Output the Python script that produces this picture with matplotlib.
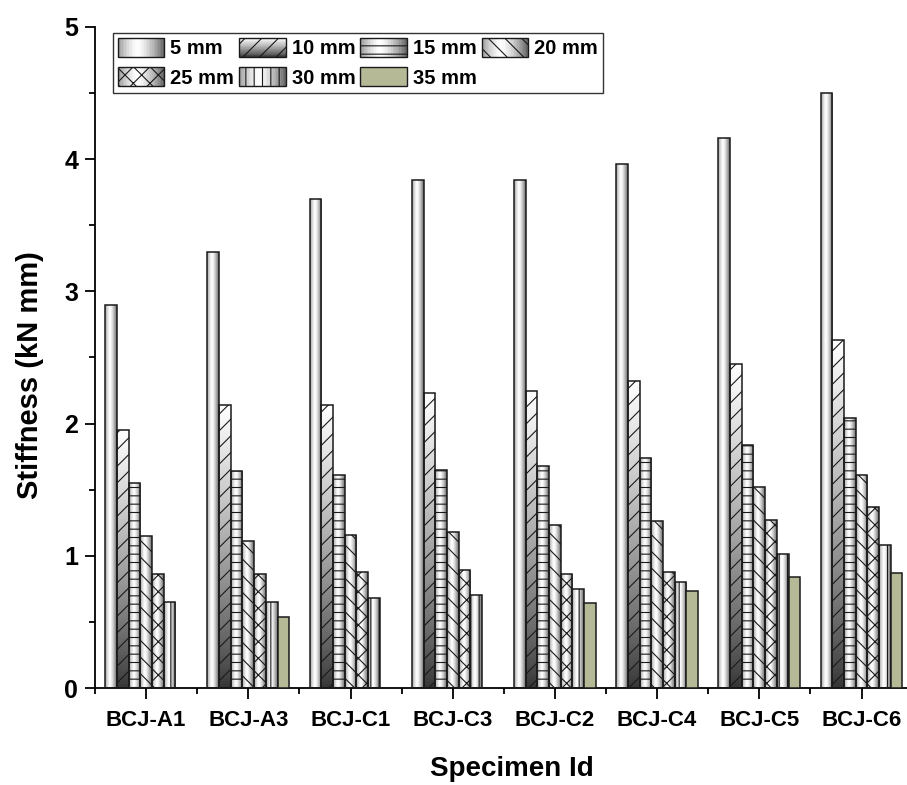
import numpy as np
import matplotlib
matplotlib.use('Agg')
import matplotlib.pyplot as plt
from matplotlib.patches import Rectangle
from matplotlib.legend_handler import HandlerBase
from matplotlib.ticker import MultipleLocator, FixedLocator

nan = np.nan
specimens = ['BCJ-A1', 'BCJ-A3', 'BCJ-C1', 'BCJ-C3', 'BCJ-C2', 'BCJ-C4', 'BCJ-C5', 'BCJ-C6']
series_labels = ['5 mm', '10 mm', '15 mm', '20 mm', '25 mm', '30 mm', '35 mm']
s5 = [2.90, 3.30, 3.70, 3.84, 3.84, 3.96, 4.16, 4.50]
s10 = [1.95, 2.14, 2.14, 2.23, 2.25, 2.32, 2.45, 2.63]
s15 = [1.55, 1.64, 1.61, 1.65, 1.68, 1.74, 1.84, 2.04]
s20 = [1.15, 1.11, 1.16, 1.18, 1.23, 1.26, 1.52, 1.61]
s25 = [0.86, 0.86, 0.88, 0.89, 0.86, 0.88, 1.27, 1.37]
s30 = [0.65, 0.65, 0.68, 0.70, 0.75, 0.80, 1.01, 1.08]
s35 = [nan, 0.54, nan, nan, 0.64, 0.73, 0.84, 0.87]
series = [s5, s10, s15, s20, s25, s30, s35]

styles = [
    dict(hatch='', grad='cyl'),
    dict(hatch='//', grad='vert'),
    dict(hatch='--', grad='cyl'),
    dict(hatch='\\\\', grad='cyl'),
    dict(hatch='xx', grad='cyl'),
    dict(hatch='||', grad='cyl'),
    dict(hatch='', grad=None, color='#b5b996'),
]

plt.rcParams['font.family'] = ['Liberation Sans', 'DejaVu Sans']
plt.rcParams['font.weight'] = 'bold'
plt.rcParams['hatch.linewidth'] = 0.8


def cyl(t):
    d = np.abs(t - 0.42) / 0.58
    return np.clip(1 - 0.62 * d ** 1.4, 0, 1)


def vert(t):
    # t=0 bottom, t=1 top
    return np.clip(0.2 + 0.8 * t ** 0.8, 0, 1)


N = 64
tt = (np.arange(N) + 0.5) / N
cyl_arr = cyl(tt)[None, :]
vert_arr = vert(tt)[:, None]

fig = plt.figure(figsize=(9.07, 7.85), dpi=100)
ax = fig.add_axes([95 / 907, 1 - 688 / 785, 1 - 95 / 907, (688 - 27) / 785])

w = 0.8 / 7
x = np.arange(len(specimens))
for j, (vals, st) in enumerate(zip(series, styles)):
    pos = x + (j - 3) * w
    bars = ax.bar(pos, vals, width=w, facecolor=st.get('color', 'none'),
                  edgecolor='#1a1a1a', linewidth=1.1, hatch=st['hatch'], zorder=3)
    if st['grad']:
        arr = cyl_arr if st['grad'] == 'cyl' else vert_arr
        for b in bars:
            h = b.get_height()
            if not np.isfinite(h):
                continue
            x0 = b.get_x()
            x1 = x0 + b.get_width()
            im = ax.imshow(arr, extent=(x0, x1, 0, h), origin='lower', aspect='auto',
                           cmap='gray', vmin=0, vmax=1, interpolation='bilinear', zorder=2)
            im.set_clip_path(b)

ax.set_xlim(-0.5, 7.445)
ax.set_ylim(0, 5)
ax.set_aspect('auto')

for s in ['top', 'right']:
    ax.spines[s].set_visible(False)
for s in ['left', 'bottom']:
    ax.spines[s].set_linewidth(1.3)

ax.set_xticks(x)
ax.set_xticklabels(specimens)
ax.xaxis.set_minor_locator(FixedLocator(np.arange(-0.5, 7.6, 1.0)))
ax.yaxis.set_major_locator(MultipleLocator(1))
ax.yaxis.set_minor_locator(MultipleLocator(0.5))
ax.tick_params(axis='x', which='major', direction='out', length=8, width=1.3, pad=8, labelsize=16)
ax.tick_params(axis='x', which='minor', direction='out', length=4, width=1.3)
ax.tick_params(axis='y', which='major', direction='out', length=7, width=1.3, pad=5, labelsize=18)
ax.tick_params(axis='y', which='minor', direction='out', length=4, width=1.3)
for lab in ax.get_xticklabels() + ax.get_yticklabels():
    lab.set_fontweight('bold')

fig.text(30 / 907, 1 - 375 / 785, 'Stiffness (kN mm)', rotation=90, ha='center', va='center',
         fontsize=21, fontweight='bold')
fig.text(512 / 907, 1 - 776 / 785, 'Specimen Id', ha='center', va='baseline',
         fontsize=20, fontweight='bold')


class GradHandler(HandlerBase):
    def __init__(self, grad, hatch, color=None):
        super().__init__()
        self.grad = grad
        self.hatch = hatch
        self.color = color

    def create_artists(self, legend, orig_handle, xdescent, ydescent, width, height, fontsize, trans):
        arts = []
        x0, y0 = -xdescent, -ydescent
        n = 30
        if self.grad == 'cyl':
            for k in range(n):
                v = float(cyl((k + 0.5) / n))
                arts.append(Rectangle((x0 + width * k / n, y0), width / n * 1.1, height,
                                      facecolor=str(v), edgecolor='none', transform=trans))
        elif self.grad == 'vert':
            for k in range(n):
                v = float(vert((k + 0.5) / n))
                arts.append(Rectangle((x0, y0 + height * k / n), width, height / n * 1.1,
                                      facecolor=str(v), edgecolor='none', transform=trans))
        arts.append(Rectangle((x0, y0), width, height, facecolor=self.color or 'none',
                              edgecolor='#1a1a1a', linewidth=1.0, hatch=self.hatch, transform=trans))
        return arts


proxies = [Rectangle((0, 0), 1, 1) for _ in series_labels]
hmap = {p: GradHandler(st['grad'], st['hatch'], st.get('color')) for p, st in zip(proxies, styles)}
order = [0, 4, 1, 5, 2, 6, 3]
leg = ax.legend([proxies[i] for i in order], [series_labels[i] for i in order], handler_map=hmap,
                ncol=4, loc='upper left', bbox_to_anchor=(113 / 907, 1 - 33 / 785),
                bbox_transform=fig.transFigure, borderaxespad=0,
                frameon=True, fancybox=False, framealpha=1, edgecolor='#333333',
                borderpad=0.25, labelspacing=0.45, handlelength=2.3, handleheight=1.05,
                handletextpad=0.3, columnspacing=0.25, prop={'weight': 'bold', 'size': 14.5})
leg.get_frame().set_linewidth(1.0)

fig.savefig('out.png', dpi=100)
